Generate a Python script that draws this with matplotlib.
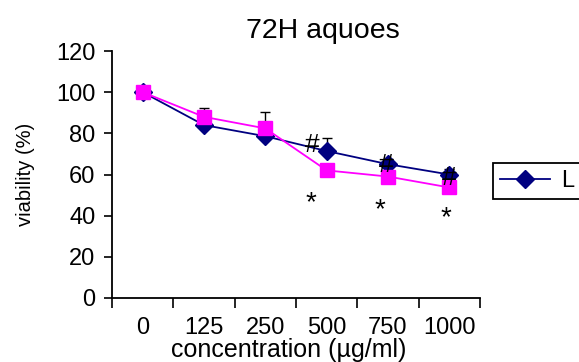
import matplotlib
matplotlib.use("Agg")
from matplotlib import pyplot as plt
import numpy as np

plt.rcParams['font.family'] = ['Liberation Sans', 'DejaVu Sans']

conc_labels = ['0', '125', '250', '500', '750', '1000']
series_L = [100, 84, 78.6, 71.4, 65, 60]
series_M = [100, 88, 82.4, 62, 59, 53.7]
# upward error bars (black caps)
err_L = [0, 0, 0, 6.5, 2.5, 2.5]
err_M = [0, 4.4, 8.0, 0, 0, 0]
hash_marks = [(3, -0.23, 74.5), (4, -0.03, 64.5), (5, 0.0, 58.3)]
star_marks = [(3, -0.25, 46), (4, -0.14, 42.8), (5, -0.05, 39)]

fig = plt.figure(figsize=(5.79, 3.62), dpi=100)
ax = fig.add_axes([112/579, 1-298/362, (480-112)/579, (298-51)/362])

x = np.arange(len(conc_labels)) + 0.5

ax.errorbar(x, series_L, yerr=[np.zeros(6), err_L], fmt='none', ecolor='black',
            elinewidth=1.0, capsize=3.5, capthick=1.0, zorder=2)
ax.errorbar(x, series_M, yerr=[np.zeros(6), err_M], fmt='none', ecolor='black',
            elinewidth=1.0, capsize=3.5, capthick=1.0, zorder=2)
ax.plot(x, series_L, color='#000080', marker='D', markersize=9, lw=1.3,
        label='L', zorder=3)
ax.plot(x, series_M, color='#FF00FF', marker='s', markersize=10.5, lw=1.3,
        zorder=4)

for i, dx, yv in hash_marks:
    ax.text(x[i] + dx, yv, '#', fontsize=19, ha='center', va='center', zorder=5)
for i, dx, yv in star_marks:
    ax.text(x[i] + dx, yv, '*', fontsize=20, ha='center', va='center', zorder=5)

ax.set_xlim(0, 6)
ax.set_ylim(0, 120)
ax.set_yticks(np.arange(0, 121, 20))
ax.set_xticks(np.arange(0, 7))
ax.set_xticklabels([])
ax.set_xticks(x, minor=True)
ax.set_xticklabels(conc_labels, minor=True)
ax.tick_params(axis='x', which='major', length=7, width=1.2, direction='out')
ax.tick_params(axis='x', which='minor', length=0, labelsize=17, pad=14)
ax.tick_params(axis='y', length=6, width=1.2, labelsize=17, pad=6)
for s in ['top', 'right']:
    ax.spines[s].set_visible(False)
for s in ['left', 'bottom']:
    ax.spines[s].set_linewidth(1.3)

ax.set_ylabel('viability (%)', fontsize=14.5)
ax.yaxis.set_label_coords((25 - 112) / 368, 0.5)
ax.yaxis.label.set_va('center')
ax.set_xlabel('concentration (\u00b5g/ml)', fontsize=18)
ax.xaxis.set_label_coords((289 - 112) / 368, (298 - 350) / 247)
ax.xaxis.label.set_va('center')
ax.set_title('72H aquoes', fontsize=20.5, pad=9, x=(323 - 112) / 368)

leg = fig.legend(loc='upper left', bbox_to_anchor=(493/579, 1-163/362),
                 borderaxespad=0, fontsize=17, frameon=True, fancybox=False,
                 edgecolor='black', framealpha=1, handlelength=2.1,
                 borderpad=0.3, handletextpad=0.5)
leg.get_frame().set_linewidth(1.3)

fig.savefig('out.png', dpi=100)
